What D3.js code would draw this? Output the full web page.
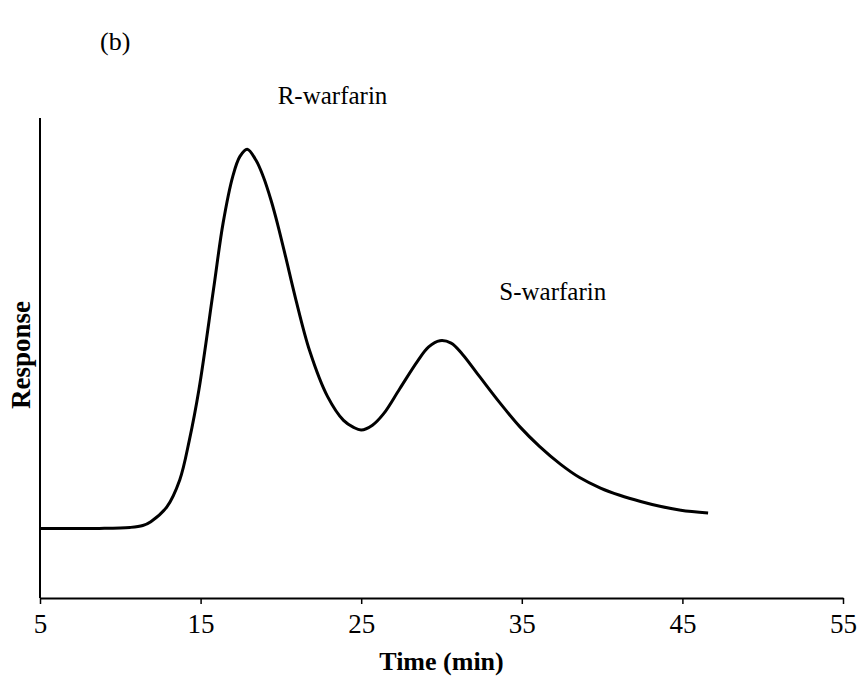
<!DOCTYPE html>
<html>
<head>
<meta charset="utf-8">
<script src="https://cdn.jsdelivr.net/npm/d3@7"></script>
<style>
  body { margin: 0; background: #fff; }
  text { font-family: "Liberation Serif", "Times New Roman", serif; fill: #000; }
</style>
</head>
<body>
<div id="chart"></div>
<script>
// chromatogram (time in min, response in arbitrary units)
var times = [5, 8.7, 10.6, 11.4, 11.9, 12.9, 13.7, 14.3, 14.9, 15.8, 16.4, 17.0, 17.45, 17.9,
             18.45, 18.9, 19.4, 19.8, 20.3, 20.9, 21.8, 22.9, 23.9, 24.5, 25.0, 25.7,
             26.4, 27.4, 28.5, 29.2, 29.9, 30.6, 31.3, 32.4, 33.6, 34.9, 36.1, 37.4,
             38.6, 39.9, 41.1, 42.4, 43.6, 44.9, 46.6];
var response = [14.5, 14.5, 14.7, 15.1, 15.9, 19.0, 24.6, 32.9, 43.5, 64.2, 78.1, 87.8, 92.0, 93.5,
                91.2, 87.8, 82.7, 77.8, 71.0, 62.6, 51.4, 42.0, 37.0, 35.6, 35.0, 36.0,
                38.4, 43.6, 49.3, 52.3, 53.6, 53.1, 50.8, 46.0, 40.8, 35.6, 31.6, 27.9,
                25.1, 22.9, 21.4, 20.1, 19.1, 18.3, 17.7];
var xTicks = [5, 15, 25, 35, 45, 55];
var peakLabels = [
  {label: "R-warfarin", t: 19.8, r: 103},
  {label: "S-warfarin", t: 33.6, r: 62}
];

var margin = {top: 118, right: 14, bottom: 82, left: 40},
    width = 857 - margin.left - margin.right,
    height = 680 - margin.top - margin.bottom;

var svg = d3.select("#chart").append("svg")
    .attr("width", 857)
    .attr("height", 680)
  .append("g")
    .attr("transform", `translate(${margin.left},${margin.top})`);

var x = d3.scaleLinear().domain([5, 55]).range([0, width]);
var y = d3.scaleLinear().domain([0, 100]).range([height, 0]);

var xAxis = d3.axisBottom(x)
  .tickValues(xTicks)
  .tickSize(6)
  .tickSizeOuter(0)
  .tickPadding(10)
  .tickFormat(d3.format("d"));

var gx = svg.append("g")
  .attr("transform", `translate(0,${height})`)
  .call(xAxis);
gx.select(".domain").attr("stroke-width", 2);
gx.selectAll(".tick line").attr("stroke-width", 1.5);
gx.selectAll(".tick text")
  .attr("font-family", "Liberation Serif")
  .attr("font-size", 27);

// y axis: plain line, no ticks
svg.append("line")
  .attr("x1", 0).attr("x2", 0)
  .attr("y1", 0).attr("y2", height)
  .attr("stroke", "#000")
  .attr("stroke-width", 2);

var line = d3.line()
  .x((d, i) => x(times[i]))
  .y(d => y(d))
  .curve(d3.curveCatmullRom.alpha(0.5));

svg.append("path")
  .datum(response)
  .attr("fill", "none")
  .attr("stroke", "#000")
  .attr("stroke-width", 3)
  .attr("d", line);

svg.selectAll(".peak")
  .data(peakLabels)
  .enter().append("text")
  .attr("class", "peak")
  .attr("x", d => x(d.t))
  .attr("y", d => y(d.r))
  .attr("font-size", 25)
  .text(d => d.label);

svg.append("text")
  .attr("x", width / 2)
  .attr("y", height + 72)
  .attr("text-anchor", "middle")
  .attr("font-size", 26)
  .attr("font-weight", "bold")
  .text("Time (min)");

svg.append("text")
  .attr("transform", "rotate(-90)")
  .attr("x", -height / 2 + 3)
  .attr("y", -10)
  .attr("text-anchor", "middle")
  .attr("font-size", 27)
  .attr("font-weight", "bold")
  .text("Response");

svg.append("text")
  .attr("x", 60)
  .attr("y", -68)
  .attr("font-size", 26)
  .text("(b)");
</script>
</body>
</html>
